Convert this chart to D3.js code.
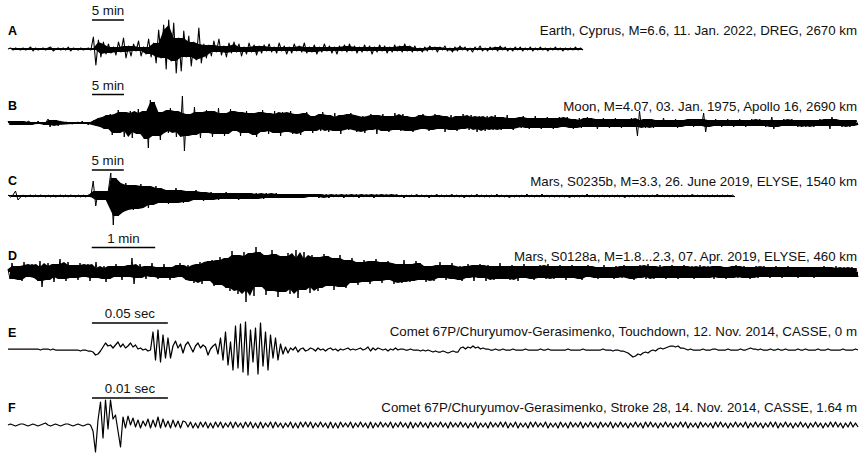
<!DOCTYPE html>
<html><head><meta charset="utf-8">
<script src="https://cdn.jsdelivr.net/npm/d3@7"></script>
<style>body{margin:0;background:#fff} svg{display:block} text{font-family:"Liberation Sans",Arial,Helvetica,sans-serif}</style>
</head><body><svg id="c" width="860" height="453"></svg>
<script>
const panelLabels = ["A","B","C","D","E","F"];
const titles = [
  "Earth, Cyprus, M=6.6, 11. Jan. 2022, DREG, 2670 km",
  "Moon, M=4.07, 03. Jan. 1975, Apollo 16, 2690 km",
  "Mars, S0235b, M=3.3, 26. June 2019, ELYSE, 1540 km",
  "Mars, S0128a, M=1.8...2.3, 07. Apr. 2019, ELYSE, 460 km",
  "Comet 67P/Churyumov-Gerasimenko, Touchdown, 12. Nov. 2014, CASSE, 0 m",
  "Comet 67P/Churyumov-Gerasimenko, Stroke 28, 14. Nov. 2014, CASSE, 1.64 m"
];
const barLabels = ["5 min","5 min","5 min","1 min","0.05 sec","0.01 sec"];
const barLengths = [5, 5, 5, 1, 0.05, 0.01];
const barStarts = [13.15, 13.15, 13.15, 1.32, 0.0553, 0.01107];
const durations = [90, 133, 114, 13.4, 0.56, 0.112];

const traceA = [0,1,-1,1,0,-1,1,-1,0,2,-2,1,-1,0,1,-1,1,2,-2,0,1,-1,1,-1,2,-2,1,0,-1,1,-1,0,1,-1,
12,-16,9,-8,7,-5,5,-4,
2,-6,7,-3,11,-9,3,-7,5,-2,8,-7,2,-5,10,-8,
6,-14,19,-9,24,-20,29,-12,26,-24,11,-22,18,-8,13,-17,7,-11,21,-14,
5,-9,4,-7,8,-3,10,-6,3,-8,6,-4,7,-3,5,-7,2,-5,6,-3,4,-6,3,-4,
4,-2,5,-3,2,-4,6,-2,3,-5, 2,-4,5,-2,3,-3,6,-4,2,-3, 4,-5,2,-3,5,-2,3,-4,2,-5, 3,-2,4,-3,5,-2,3,-4,2,-3, 4,-2,3,-5,2,-3,4,-2,3,-4, 2,-3,4,-2,3,-3,5,-2,3,-3,
3,-2,1,-3,2,-2,3,-1,2,-3, 2,-1,3,-2,1,-3,2,-2,3,-1, 2,-2,1,-3,2,-1,3,-2,1,-2, 2,-1,2,-2,3,-1,2,-2,1,-2, 2,-1,2,-2,1,-1,2,-2,1,-1, 2,-1,1,-2,1,-1,2,-1,1,-2, 1,-1,1,-1,2,-1,1,-1];

const traceB = [2,-2,2,-1,2,-2,2,-2,1,-2,2, 1,-2,1,-1,2,-1,1,-2,1, 4,-4,3, -2,3,-3,2, 0,0,1,0,0,-1,0,0, 1,-1,2,-1,1,-2,1,-1, 3,-3,5,-4,6,-6,8,
-6,9,-12,7,-10,13,-8,11,-14,9, -7,12,-15,10,-9,14,-11,8,-16,12,
-25,23,-9,21,-13,8,-17,11,-7,13, -10,15,-8,12,-14,10,-9,27,-28,9,
-13,7,-12,16,-8,11,-15,9,-10,13, -7,12,-14,8,-11,15,-9,10,-13,7,
-11,14,-8,12,-6,11,-13,9,-10,12, -7,10,-12,8,-14,11,-9,13,-8,10,
-11,9,-7,12,-10,8,-13,11,-9,10, -8,12,-11,7,-10,9,-12,10,-8,11,
-8,6,-10,7,-5,9,-8,11,-6,8, -9,5,-7,10,-8,6,-11,8,-5,9, -7,10,-6,8,-9,5,-8,7,-10,6, -7,9,-5,8,-11,7,-6,9,-8,5, -9,7,-6,10,-7,5,-8,9,-6,7,
-8,6,-9,5,-7,8,-6,9,-5,7, -8,6,-7,9,-5,8,-6,7,-9,5, -6,8,-7,5,-8,7,-6,9,-5,6, -7,8,-5,6,-9,7,-6,5,-8,7, -6,5,-7,8,-5,6,-7,5,-6,8,
-6,4,-7,5,-4,6,-5,7,-4,5, -6,4,-5,7,-4,5,-6,4,-5,6, -4,5,-6,3,-5,6,-4,5,-3,6, -5,4,-6,3,-4,5,-5,3,-4,6, -3,5,-4,4,-6,3,-4,5,-3,4,
-5,3,-4,5,-3,4,-5,3,-4,4, -3,5,-4,3,-13,12,-4,3,-5,4, -3,4,-5,3,-4,3,-3,5,-4,3, -4,3,-3,4,-5,3,-4,3,-3,4, -3,4,-4,3,-3,4,-3,10,-9,3,
-4,3,-3,4,-3,3,-4,3,-3,4, -3,3,-4,3,-3,4,-3,3,-4,3, -3,4,-3,3,-3,4,-3,3,-4,3, -3,6,-6,3,-4,3,-3,4,-3,3, -3,4,-3,3,-4,3,-3,3,-4,3,
-3,3,-4,3,-3,4,-3,3,-3,4, -6,6,-3,4,-3,3,-4,3,-3,3, -4,3,-3,3,-2];

const traceC = [1,-1,1, 5,-4,
-1,1,-1,0,1,-1,1,-1,1,0,-1,1,-1,1,-1,0,1,-1,1,-1,1,0,-1,1,-1,1,-1,1,-1,
15,-10,5,-4,3,-4,5,
23,-29,18,-20,9,-16,13,-10,11,-14,7,-13,12,-8,10,-12,6,-9,10,-7,
8,-5,6,-8,4,-7,8,-4,6,-7,3,-6,5,-4,6,-3,4,-5,3,-4,
4,-2,3,-4,2,-3,4,-2,3,-3,2,-4,3,-2,3,-3,2,-3,3,-2,2,-3,3,-2,2,-2,3,-2,2,-2,
2,-2,2,-1,2,-2,1,-2,2,-1, 2,-1,2,-2,1,-1,2,-2,1,-1, 2,-1,1,-2,2,-1,1,-1,2,-2, 1,-1,2,-1,1,-2,2,-1,1,-1, 2,-1,1,-1,2,-1,1,-2,1,-1, 1,-1,2,-1,1,-1,1,-2,1,-1,
2,-1,1,-1,1,-1,2,-1,1,-1, 1,-2,1,-1,1,-1,2,-1,1,-1, 1,-1,1,-1,2,-1,1,-1,1,-2, 1,-1,1,-1,1,-1,2,-1,1,-1, 1,-1,2,-1,1,-1,1,-1,1,-1, 1,-1,1,-2,1,-1,1,-1,1,-1,
2,-1,1,-1,1,-1,1,-1,1,-1, 1,-1,1,-1,1,-2,1,-1,1,-1, 1,-1,1,-1,1,-1,1,-1,2,-1, 1,-1,1,-1,1,-1,1,-1,1,-1, 1,-1,2,-1,1,-1,1,-1,1,-1, 1,-1,1,-1,1,-1,1,-1,1,-1];

const traceD = [3,-7,9,-4,6,-8,4,-9,10,-5, 7,-3,8,-6,5,-9,11,-15,4,-8, 9,-5,6,-10,8,-4,13,-7,5,-9, 10,-4,7,-6,3,-8,9,-5,7,-4, 8,-9,4,-6,10,-5,3,-7,6,-10,
4,-7,6,-3,8,-5,4,-8,6,-4, 7,-5,14,-12,4,-6,8,-3,5,-7, 6,-4,9,-5,3,-7,5,-6,8,-4, 5,-8,4,-6,7,-3,9,-5,4,-8,
7,-9,5,-11,8,-6,10,-12,7,-9, 11,-8,12,-14,9,-13,15,-10,12,-16,
14,-19,21,-11,17,-22,12,-18,20,-30, 16,-13,19,-24,25,-15,20,-12,17,-23, 13,-19,22,-14,18,-25,11,-20,16,-13, 19,-22,14,-17,22,-26,13,-18,20,-15,
12,-21,17,-11,15,-19,13,-16,18,-12, 16,-14,11,-18,14,-12,17,-15,10,-16,
12,-9,14,-11,8,-13,10,-7,12,-10, 8,-12,11,-8,13,-9,7,-11,10,-8, 11,-7,9,-12,6,-10,8,-11,12,-7, 8,-10,6,-9,11,-7,9,-8,6,-10,
6,-8,5,-9,7,-5,10,-6,4,-8, 7,-5,9,-7,4,-8,6,-9,5,-6, 8,-5,6,-9,7,-4,8,-6,5,-9, 7,-4,6,-8,5,-7,9,-5,6,-7, 5,-8,7,-4,6,-9,5,-6,8,-5,
6,-7,4,-8,6,-5,7,-6,4,-7, 8,-5,6,-7,4,-6,7,-5,6,-8, 5,-6,7,-4,6,-7,5,-8,6,-4, 7,-5,6,-6,4,-7,5,-5,7,-6, 4,-6,5,-7,6,-4,5,-6,7,-5,
6,-7,5,-8,6,-6,7,-5,6,-7, 8,-5,6,-7,5,-6,7,-6,5,-7, 6,-5,7,-6,5,-7,6,-5,7,-6, 5,-6,6,-7,5,-5,7,-6,5,-6, 6,-5,5,-7,6,-5,6,-6,5,-7,
5,-6,6,-5,7,-6,5,-5,6,-6, 5,-7,5,-5,6,-6,5,-5,6,-5, 5,-6,5,-5,6,-5,4,-6,5,-5, 6,-5,5,-5,4,-6,5,-5,5,-5, 5,-5,4,-6,5,-5,5,-4,6,-5,
5,-5,4,-5,6,-5,4,-5,5,-5, 4,-5,5,-5,4,-5];

const traceE = [1,1,1,1,1,1,1,1,1,1,1,1,1,0,1,1,1,0,1,0,0,0,0,0,0,0,0,0,0,-1,0,0,-1,-1,
-2,-5,-4,-1,3,7,4,5,2,5,8,3,6,2,4,7,3,5,1,2,0,1,-1,0,
18,-10,20,-12,15,-8,12,
-8,4,9,2,6,-3,5,8,3,-2,4,7,2,5,3,-5,1,4,6,
-4,12,-10,18,-15,8,-20,24,-18,26,-22,28,-25,20,-12,22,-24,27,-16,18,-20,15,-8,12,-10,6,-4,3,
-3,2,0,3,-2,1,2,-1,0,2,1,-1,2,0,1,-1,1,2,0,1,-1,1,0,1,2,0,1,0,1,
2,0,1,3,-1,2,0,2,1,0,1,-1,1,0,2,0,1,1,0,0,1,0,0,0,-1,0,-1,0,-1,
-2,-1,-2,-2,-1,-2,-3,-2,-1,-2,-2,
2,3,1,3,2,4,2,3,1,2,1,1,0,
0,1,0,0,1,0,0,0,1,0,0,0,0,1,0,0,0,0,0,1,0,0,1,0,0,0,0,0,0,0,1,0,0,0,0,0,1,0,0,0,0,0,0,0,1,0,0,0,-1,0,0,-1,-1,-2,-3,
-5,-7,-6,-4,-5,-3,-2,-3,-1,0,-1,1,2,1,2,3,4,4,3,4,2,2,1,0,1,0,0,
0,0,1,0,0,0,1,1,0,0,0,0,1,0,0,0,0,1,0,0,1,2,1,1,0,1,0,0,0,1,0,0,1,0,0,1,0,0,0,0,1,0,0,1,0,0,0,0,1,0,0,0,1,0,0,0,0,0,1,0,0,0,0,1,0];

const traceF = [0,1,0,-1,0,1,1,0,-1,0,1,0,-1,0,1,2,0,-1,0,1,0,-1,0,1,1,0,-1,0,1,0,-1,0,1,0,
-6,-27,5,23,-13,25,-4,25,6,10,-6,-22,8,-3,9,0,7,
-2,5,-3,4,-1,6,-3,5,-2,8,-3,6,-2,4,-3,5,-2,4,-3,4,
3,-2,3,-3,2,-3,3,-2,3,-3, 2,-3,3,-2,3,-3,2,-2,3,-3, 3,-2,2,-3,3,-2,3,-3,2,-3, 3,-3,2,-2,3,-3,3,-2,2,-3, 2,-2,3,-3,2,-3,3,-2,3,-2,
3,-3,2,-2,3,-2,2,-3,3,-3, 2,-3,3,-2,2,-2,3,-3,2,-2, 3,-2,2,-3,3,-3,2,-2,3,-2, 2,-2,3,-3,2,-2,3,-2,2,-3, 3,-3,2,-2,3,-2,2,-3,3,-2,
2,-2,3,-2,2,-3,3,-2,2,-2, 3,-2,2,-3,2,-2,3,-3,2,-2, 2,-3,3,-2,2,-2,3,-2,3,-3, 2,-2,3,-3,2,-2,2,-3,3,-2, 3,-2,2,-2,3,-3,2,-2,2,-3,
3,-2,2,-3,3,-2,2,-2,3,-3, 2,-2,3,-2,2,-3,3,-2,2,-2, 3,-3,2,-2,3,-2,2,-3,2,-2, 3,-2,2,-3,3,-2,3,-2,2,-3, 2,-2,3,-2,2,-3,2,-2,3,-2,
3,-3,2,-2,2,-3,3,-2,2,-2, 2,-3,3,-2,3,-2,2,-3,2,-2, 3,-2,2,-2,3,-3,2,-2,3,-2, 2,-3,2,-2,3,-2,3,-3,2,-2, 3,-2,2,-3,2,-2,3,-2,2,-3,
2,-2,3,-2,2,-3,2,-2,3,-2, 3,-2,2,-3,2,-2,3,-2,2,-2];

const traces = [traceA, traceB, traceC, traceD, traceE, traceF];

// layout
const X0 = 8;
const xEnds = [583, 858, 735, 858, 858, 858];
const baselines = [49, 123, 196, 272, 350, 425];
const barOffsets = [29, 28.5, 26, 24.5, 27, 27];
const titleY = [35, 111, 186, 261, 336, 412];
const labelY = [35, 110, 185, 260, 337, 412];
const strokeW = [1.1, 1, 1, 1, 1.25, 1.2];
const fillMode = ["min", "median", "median", "median", null, null];

// inner envelope of same-signed peaks (dense traces rendered as a solid band)
function innerEnvelope(tr, sign, mode) {
  const pk = [];
  tr.forEach((v, i) => { if (sign * v > 0) pk.push([i, sign * v]); });
  return pk.map((p, j) => {
    const a = pk[j - 1] ? pk[j - 1][1] : p[1];
    const b = pk[j + 1] ? pk[j + 1][1] : p[1];
    const v = mode === "min" ? Math.min(a, p[1], b) : d3.median([a, p[1], b]);
    return [p[0], sign * v];
  });
}

const svg = d3.select("#c");
traces.forEach((tr, k) => {
  const base = baselines[k];
  const dur = durations[k];
  const x = d3.scaleLinear().domain([0, dur]).range([X0, xEnds[k]]);
  const y = d3.scaleLinear().domain([-30, 30]).range([base + 30, base - 30]);
  const n = tr.length;
  const tOf = i => i * dur / (n - 1);
  if (fillMode[k]) {
    [1, -1].forEach(s => {
      const env = innerEnvelope(tr, s, fillMode[k]);
      const area = d3.area().x(p => x(tOf(p[0]))).y0(y(0)).y1(p => y(p[1]));
      svg.append("path").datum(env).attr("d", area).attr("fill", "#000");
    });
  }
  const line = d3.line().x((d, i) => x(tOf(i))).y(d => y(d));
  svg.append("path").datum(tr).attr("d", line)
    .attr("fill", "none").attr("stroke", "#000").attr("stroke-width", strokeW[k])
    .attr("stroke-linejoin", "round");
  const by = base - barOffsets[k];
  svg.append("line").attr("x1", x(barStarts[k])).attr("x2", x(barStarts[k] + barLengths[k]))
    .attr("y1", by).attr("y2", by).attr("stroke", "#000").attr("stroke-width", 1.5);
  svg.append("text").attr("x", x(barStarts[k] + barLengths[k] / 2)).attr("y", by - 5)
    .attr("text-anchor", "middle").attr("font-size", 13.3).attr("fill", "#111").text(barLabels[k]);
  svg.append("text").attr("x", 857).attr("y", titleY[k]).attr("text-anchor", "end")
    .attr("font-size", 13.3).attr("fill", "#111").text(titles[k]);
  svg.append("text").attr("x", 8).attr("y", labelY[k]).attr("font-size", 12.5)
    .attr("font-weight", "bold").attr("fill", "#000").text(panelLabels[k]);
});
</script>
</body></html>
